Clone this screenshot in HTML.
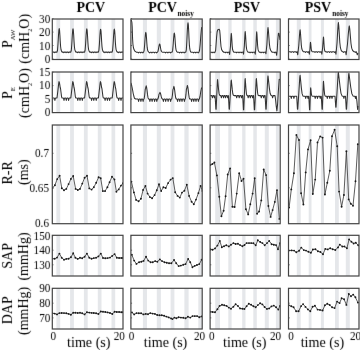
<!DOCTYPE html><html><head><meta charset="utf-8"><style>
html,body{margin:0;padding:0;background:#fff;width:360px;height:350px;overflow:hidden}
svg{display:block}
text{font-family:"Liberation Serif",serif;fill:#000}
</style></head><body>
<svg xmlns="http://www.w3.org/2000/svg" width="360" height="350" viewBox="0 0 360 350">
<rect width="360" height="350" fill="#fff"/>
<defs>
<clipPath id="c00"><rect x="52.3" y="19" width="70.7" height="40.5"/></clipPath>
<clipPath id="c01"><rect x="52.3" y="72" width="70.7" height="40.6"/></clipPath>
<clipPath id="c02"><rect x="52.3" y="125" width="70.7" height="98.7"/></clipPath>
<clipPath id="c03"><rect x="52.3" y="235.3" width="70.7" height="40.7"/></clipPath>
<clipPath id="c04"><rect x="52.3" y="288.3" width="70.7" height="40.7"/></clipPath>
<clipPath id="c10"><rect x="130.9" y="19" width="71.3" height="40.5"/></clipPath>
<clipPath id="c11"><rect x="130.9" y="72" width="71.3" height="40.6"/></clipPath>
<clipPath id="c12"><rect x="130.9" y="125" width="71.3" height="98.7"/></clipPath>
<clipPath id="c13"><rect x="130.9" y="235.3" width="71.3" height="40.7"/></clipPath>
<clipPath id="c14"><rect x="130.9" y="288.3" width="71.3" height="40.7"/></clipPath>
<clipPath id="c20"><rect x="210.1" y="19" width="70.1" height="40.5"/></clipPath>
<clipPath id="c21"><rect x="210.1" y="72" width="70.1" height="40.6"/></clipPath>
<clipPath id="c22"><rect x="210.1" y="125" width="70.1" height="98.7"/></clipPath>
<clipPath id="c23"><rect x="210.1" y="235.3" width="70.1" height="40.7"/></clipPath>
<clipPath id="c24"><rect x="210.1" y="288.3" width="70.1" height="40.7"/></clipPath>
<clipPath id="c30"><rect x="288.5" y="19" width="70.5" height="40.5"/></clipPath>
<clipPath id="c31"><rect x="288.5" y="72" width="70.5" height="40.6"/></clipPath>
<clipPath id="c32"><rect x="288.5" y="125" width="70.5" height="98.7"/></clipPath>
<clipPath id="c33"><rect x="288.5" y="235.3" width="70.5" height="40.7"/></clipPath>
<clipPath id="c34"><rect x="288.5" y="288.3" width="70.5" height="40.7"/></clipPath>
<filter id="soft" x="0" y="0" width="360" height="350" filterUnits="userSpaceOnUse" color-interpolation-filters="sRGB"><feConvolveMatrix order="3" kernelMatrix="0 1 0 1 10 1 0 1 0" divisor="14" edgeMode="none" preserveAlpha="false"/></filter>
</defs>
<rect x="56.4" y="19" width="3.8" height="40.5" fill="#e5e7ea"/>
<rect x="70.1" y="19" width="3.8" height="40.5" fill="#e5e7ea"/>
<rect x="83.9" y="19" width="3.8" height="40.5" fill="#e5e7ea"/>
<rect x="97.8" y="19" width="3.7" height="40.5" fill="#e5e7ea"/>
<rect x="111.5" y="19" width="3.7" height="40.5" fill="#e5e7ea"/>
<rect x="56.4" y="72" width="3.8" height="40.6" fill="#e5e7ea"/>
<rect x="70.1" y="72" width="3.8" height="40.6" fill="#e5e7ea"/>
<rect x="83.9" y="72" width="3.8" height="40.6" fill="#e5e7ea"/>
<rect x="97.8" y="72" width="3.7" height="40.6" fill="#e5e7ea"/>
<rect x="111.5" y="72" width="3.7" height="40.6" fill="#e5e7ea"/>
<rect x="56.4" y="125" width="3.8" height="98.7" fill="#e5e7ea"/>
<rect x="70.1" y="125" width="3.8" height="98.7" fill="#e5e7ea"/>
<rect x="83.9" y="125" width="3.8" height="98.7" fill="#e5e7ea"/>
<rect x="97.8" y="125" width="3.7" height="98.7" fill="#e5e7ea"/>
<rect x="111.5" y="125" width="3.7" height="98.7" fill="#e5e7ea"/>
<rect x="56.4" y="235.3" width="3.8" height="40.7" fill="#e5e7ea"/>
<rect x="70.1" y="235.3" width="3.8" height="40.7" fill="#e5e7ea"/>
<rect x="83.9" y="235.3" width="3.8" height="40.7" fill="#e5e7ea"/>
<rect x="97.8" y="235.3" width="3.7" height="40.7" fill="#e5e7ea"/>
<rect x="111.5" y="235.3" width="3.7" height="40.7" fill="#e5e7ea"/>
<rect x="56.4" y="288.3" width="3.8" height="40.7" fill="#e5e7ea"/>
<rect x="70.1" y="288.3" width="3.8" height="40.7" fill="#e5e7ea"/>
<rect x="83.9" y="288.3" width="3.8" height="40.7" fill="#e5e7ea"/>
<rect x="97.8" y="288.3" width="3.7" height="40.7" fill="#e5e7ea"/>
<rect x="111.5" y="288.3" width="3.7" height="40.7" fill="#e5e7ea"/>
<rect x="142.9" y="19" width="4.1" height="40.5" fill="#e5e7ea"/>
<rect x="156.8" y="19" width="4.1" height="40.5" fill="#e5e7ea"/>
<rect x="170.6" y="19" width="3.8" height="40.5" fill="#e5e7ea"/>
<rect x="184.4" y="19" width="4.2" height="40.5" fill="#e5e7ea"/>
<rect x="198.3" y="19" width="3.5" height="40.5" fill="#e5e7ea"/>
<rect x="142.9" y="72" width="4.1" height="40.6" fill="#e5e7ea"/>
<rect x="156.8" y="72" width="4.1" height="40.6" fill="#e5e7ea"/>
<rect x="170.6" y="72" width="3.8" height="40.6" fill="#e5e7ea"/>
<rect x="184.4" y="72" width="4.2" height="40.6" fill="#e5e7ea"/>
<rect x="198.3" y="72" width="3.5" height="40.6" fill="#e5e7ea"/>
<rect x="142.9" y="125" width="4.1" height="98.7" fill="#e5e7ea"/>
<rect x="156.8" y="125" width="4.1" height="98.7" fill="#e5e7ea"/>
<rect x="170.6" y="125" width="3.8" height="98.7" fill="#e5e7ea"/>
<rect x="184.4" y="125" width="4.2" height="98.7" fill="#e5e7ea"/>
<rect x="198.3" y="125" width="3.5" height="98.7" fill="#e5e7ea"/>
<rect x="142.9" y="235.3" width="4.1" height="40.7" fill="#e5e7ea"/>
<rect x="156.8" y="235.3" width="4.1" height="40.7" fill="#e5e7ea"/>
<rect x="170.6" y="235.3" width="3.8" height="40.7" fill="#e5e7ea"/>
<rect x="184.4" y="235.3" width="4.2" height="40.7" fill="#e5e7ea"/>
<rect x="198.3" y="235.3" width="3.5" height="40.7" fill="#e5e7ea"/>
<rect x="142.9" y="288.3" width="4.1" height="40.7" fill="#e5e7ea"/>
<rect x="156.8" y="288.3" width="4.1" height="40.7" fill="#e5e7ea"/>
<rect x="170.6" y="288.3" width="3.8" height="40.7" fill="#e5e7ea"/>
<rect x="184.4" y="288.3" width="4.2" height="40.7" fill="#e5e7ea"/>
<rect x="198.3" y="288.3" width="3.5" height="40.7" fill="#e5e7ea"/>
<rect x="215.2" y="19" width="4.8" height="40.5" fill="#e5e7ea"/>
<rect x="228.3" y="19" width="3.3" height="40.5" fill="#e5e7ea"/>
<rect x="242.2" y="19" width="3.3" height="40.5" fill="#e5e7ea"/>
<rect x="253.3" y="19" width="3.5" height="40.5" fill="#e5e7ea"/>
<rect x="264.8" y="19" width="4" height="40.5" fill="#e5e7ea"/>
<rect x="275.9" y="19" width="3.1" height="40.5" fill="#e5e7ea"/>
<rect x="215.2" y="72" width="4.8" height="40.6" fill="#e5e7ea"/>
<rect x="228.3" y="72" width="3.3" height="40.6" fill="#e5e7ea"/>
<rect x="242.2" y="72" width="3.3" height="40.6" fill="#e5e7ea"/>
<rect x="253.3" y="72" width="3.5" height="40.6" fill="#e5e7ea"/>
<rect x="264.8" y="72" width="4" height="40.6" fill="#e5e7ea"/>
<rect x="275.9" y="72" width="3.1" height="40.6" fill="#e5e7ea"/>
<rect x="215.2" y="125" width="4.8" height="98.7" fill="#e5e7ea"/>
<rect x="228.3" y="125" width="3.3" height="98.7" fill="#e5e7ea"/>
<rect x="242.2" y="125" width="3.3" height="98.7" fill="#e5e7ea"/>
<rect x="253.3" y="125" width="3.5" height="98.7" fill="#e5e7ea"/>
<rect x="264.8" y="125" width="4" height="98.7" fill="#e5e7ea"/>
<rect x="275.9" y="125" width="3.1" height="98.7" fill="#e5e7ea"/>
<rect x="215.2" y="235.3" width="4.8" height="40.7" fill="#e5e7ea"/>
<rect x="228.3" y="235.3" width="3.3" height="40.7" fill="#e5e7ea"/>
<rect x="242.2" y="235.3" width="3.3" height="40.7" fill="#e5e7ea"/>
<rect x="253.3" y="235.3" width="3.5" height="40.7" fill="#e5e7ea"/>
<rect x="264.8" y="235.3" width="4" height="40.7" fill="#e5e7ea"/>
<rect x="275.9" y="235.3" width="3.1" height="40.7" fill="#e5e7ea"/>
<rect x="215.2" y="288.3" width="4.8" height="40.7" fill="#e5e7ea"/>
<rect x="228.3" y="288.3" width="3.3" height="40.7" fill="#e5e7ea"/>
<rect x="242.2" y="288.3" width="3.3" height="40.7" fill="#e5e7ea"/>
<rect x="253.3" y="288.3" width="3.5" height="40.7" fill="#e5e7ea"/>
<rect x="264.8" y="288.3" width="4" height="40.7" fill="#e5e7ea"/>
<rect x="275.9" y="288.3" width="3.1" height="40.7" fill="#e5e7ea"/>
<rect x="296.8" y="19" width="3.9" height="40.5" fill="#e5e7ea"/>
<rect x="308.7" y="19" width="2.8" height="40.5" fill="#e5e7ea"/>
<rect x="320.9" y="19" width="3" height="40.5" fill="#e5e7ea"/>
<rect x="335" y="19" width="3.8" height="40.5" fill="#e5e7ea"/>
<rect x="345.8" y="19" width="4" height="40.5" fill="#e5e7ea"/>
<rect x="296.8" y="72" width="3.9" height="40.6" fill="#e5e7ea"/>
<rect x="308.7" y="72" width="2.8" height="40.6" fill="#e5e7ea"/>
<rect x="320.9" y="72" width="3" height="40.6" fill="#e5e7ea"/>
<rect x="335" y="72" width="3.8" height="40.6" fill="#e5e7ea"/>
<rect x="345.8" y="72" width="4" height="40.6" fill="#e5e7ea"/>
<rect x="296.8" y="125" width="3.9" height="98.7" fill="#e5e7ea"/>
<rect x="308.7" y="125" width="2.8" height="98.7" fill="#e5e7ea"/>
<rect x="320.9" y="125" width="3" height="98.7" fill="#e5e7ea"/>
<rect x="335" y="125" width="3.8" height="98.7" fill="#e5e7ea"/>
<rect x="345.8" y="125" width="4" height="98.7" fill="#e5e7ea"/>
<rect x="296.8" y="235.3" width="3.9" height="40.7" fill="#e5e7ea"/>
<rect x="308.7" y="235.3" width="2.8" height="40.7" fill="#e5e7ea"/>
<rect x="320.9" y="235.3" width="3" height="40.7" fill="#e5e7ea"/>
<rect x="335" y="235.3" width="3.8" height="40.7" fill="#e5e7ea"/>
<rect x="345.8" y="235.3" width="4" height="40.7" fill="#e5e7ea"/>
<rect x="296.8" y="288.3" width="3.9" height="40.7" fill="#e5e7ea"/>
<rect x="308.7" y="288.3" width="2.8" height="40.7" fill="#e5e7ea"/>
<rect x="320.9" y="288.3" width="3" height="40.7" fill="#e5e7ea"/>
<rect x="335" y="288.3" width="3.8" height="40.7" fill="#e5e7ea"/>
<rect x="345.8" y="288.3" width="4" height="40.7" fill="#e5e7ea"/>
<polyline points="52.4,52.1 54.15,52.1 54.7,52.7 55.25,52.1 57,52.1 57,52.1 57.5,50.22 58,43.88 58.5,35.18 58.9,30.01 59.2,28.6 59.55,30.25 59.9,35.18 60.25,41.52 60.6,46.46 61,49.52 61.5,51.16 62.2,52.1 62.2,52.1 63.25,52.1 63.8,52.7 64.35,52.1 65.55,52.1 66.1,52.7 66.65,52.1 67.85,52.1 68.4,52.7 68.95,52.1 70.8,52.1 70.8,52.1 71.3,50.24 71.8,43.95 72.3,35.32 72.7,30.2 73,28.8 73.35,30.43 73.7,35.32 74.05,41.62 74.4,46.51 74.8,49.54 75.3,51.17 76,52.1 76,52.1 77.05,52.1 77.6,52.7 78.15,52.1 79.25,52.1 79.8,52.7 80.35,52.1 81.55,52.1 82.1,52.7 82.65,52.1 84.6,52.1 84.6,52.1 85.1,50.24 85.6,43.95 86.1,35.32 86.5,30.2 86.8,28.8 87.15,30.43 87.5,35.32 87.85,41.62 88.2,46.51 88.6,49.54 89.1,51.17 89.8,52.1 89.8,52.1 90.85,52.1 91.4,52.7 91.95,52.1 93.05,52.1 93.6,52.7 94.15,52.1 95.45,52.1 96,52.7 96.55,52.1 98.4,52.1 98.4,52.1 98.9,50.27 99.4,44.09 99.9,35.61 100.3,30.57 100.6,29.2 100.95,30.8 101.3,35.61 101.65,41.8 102,46.6 102.4,49.58 102.9,51.18 103.6,52.1 103.6,52.1 104.35,52.1 104.9,52.7 105.45,52.1 106.65,52.1 107.2,52.7 107.75,52.1 108.85,52.1 109.4,52.7 109.95,52.1 112.1,52.1 112.1,52.1 112.6,50.25 113.1,44.02 113.6,35.47 114,30.39 114.3,29 114.65,30.62 115,35.47 115.35,41.7 115.7,46.56 116.1,49.56 116.6,51.18 117.3,52.1 117.3,52.1 117.95,52.1 118.5,52.7 119.05,52.1 120.25,52.1 120.8,52.7 121.35,52.1 123,52.1" fill="none" stroke="#333" stroke-width="1.05" stroke-linejoin="round" clip-path="url(#c00)"/>
<polyline points="130.9,19.8 131.5,20.5 131.9,22.5 132.2,27 132.4,33 132.6,39 132.9,44 133.4,47.5 134.1,49.8 135,51.3 136.4,52.1 136.4,52.2 137.85,52.2 138.4,52.9 138.95,52.2 140.15,52.2 140.7,52.9 141.25,52.2 142.35,52.2 142.9,52.9 143.45,52.2 143.6,52.2 143.6,52.2 144.1,50.62 144.6,45.27 145.1,37.94 145.5,33.59 145.8,32.4 146.15,33.79 146.5,37.94 146.85,43.29 147.2,47.45 147.6,50.02 148.1,51.41 148.8,52.2 148.8,52.2 149.15,52.2 149.7,52.9 150.25,52.2 151.35,52.2 151.9,52.9 152.45,52.2 153.85,52.2 154.4,52.9 154.95,52.2 156.05,52.2 156.6,52.9 157.15,52.2 157.4,52.2 157.4,52.2 157.9,51.54 158.4,49.33 158.9,46.3 159.3,44.49 159.6,44 159.95,44.57 160.3,46.3 160.65,48.51 161,50.23 161.4,51.3 161.9,51.87 162.6,52.2 162.6,52.2 164.95,52.2 165.5,52.9 166.05,52.2 167.35,52.2 167.9,52.9 168.45,52.2 169.85,52.2 170.4,52.9 170.95,52.2 172.1,52.2 172.1,52.2 172.6,50.67 173.1,45.52 173.6,38.45 174,34.25 174.3,33.1 174.65,34.44 175,38.45 175.35,43.61 175.7,47.62 176.1,50.1 176.6,51.44 177.3,52.2 177.3,52.2 179.05,52.2 179.6,52.9 180.15,52.2 181.25,52.2 181.8,52.9 182.35,52.2 183.65,52.2 184.2,52.9 184.75,52.2 185.8,52.2 185.8,52.2 186.3,49.85 186.8,41.91 187.3,31.03 187.7,24.56 188,22.8 188.35,24.86 188.7,31.03 189.05,38.97 189.4,45.14 189.8,48.97 190.3,51.02 191,52.2 191,52.2 193.05,52.2 193.6,52.9 194.15,52.2 195.25,52.2 195.8,52.9 196.35,52.2 197.65,52.2 198.2,52.9 198.75,52.2 199,52.2 199,52.2 199.6,50 200.2,44 200.8,36 201.4,29.5 201.8,27" fill="none" stroke="#333" stroke-width="1.05" stroke-linejoin="round" clip-path="url(#c10)"/>
<polyline points="210.2,52.2 211.65,52.2 212.2,52.8 212.75,52.2 213.65,52.2 214.2,52.8 214.75,52.2 215,52.2 215,52.1 215.6,50.5 216.1,44 216.6,37 217.1,32 217.7,30 218.4,29.4 219.2,29.2 219.7,30.5 220.1,34.5 220.5,40.5 221,46.5 221.7,49.8 222.6,51.3 223.6,52 223.6,52.2 224.85,52.2 225.4,52.8 225.95,52.2 226.95,52.2 227.5,52.8 228.05,52.2 229.1,52.2 229.1,52.1 229.65,54.5 230.46,46.49 230.84,39.01 231.14,34.52 231.3,33.4 231.56,35.64 231.89,40.88 232.21,46.12 232.6,49.48 233.12,51.16 233.9,52.1 233.9,52.2 235.95,52.2 236.5,52.8 237.05,52.2 238.45,52.2 239,52.8 239.55,52.2 240.75,52.2 241.3,52.8 241.85,52.2 243,52.2 243,52 243.55,54.2 244.35,45.85 244.74,37.65 245.04,32.73 245.2,31.5 245.48,33.96 245.83,39.7 246.18,45.44 246.6,49.13 247.16,50.97 248,52 248,52.2 249.55,52.2 250.1,52.8 250.65,52.2 251.85,52.2 252.4,52.8 252.95,52.2 254.7,52.2 254.7,52 255.25,54.2 255.98,45.94 256.31,37.86 256.57,33.01 256.7,31.8 256.96,34.22 257.28,39.88 257.61,45.54 258,49.17 258.52,50.99 259.3,52 259.3,52.2 260.55,52.2 261.1,52.8 261.65,52.2 262.95,52.2 263.5,52.8 264.05,52.2 265.4,52.2 265.4,51.9 265.95,53.8 266.89,44.61 267.4,34.89 267.8,29.06 268,27.6 268.4,30.52 268.9,37.32 269.4,44.12 270,48.5 270.8,50.69 272,51.9 272,52.2 274.05,52.2 274.6,52.8 275.15,52.2 275.9,52.2 275.9,52 276.7,55.3 277.3,49 277.8,40 278.4,33.2 279,33.5 279.6,37 280,40" fill="none" stroke="#333" stroke-width="1.05" stroke-linejoin="round" clip-path="url(#c20)"/>
<polyline points="288.6,51.8 290.55,51.8 291.1,52.5 291.65,51.8 293.15,51.8 293.7,52.5 294.25,51.8 295.65,51.8 296.2,52.5 296.75,51.8 297.2,51.8 297.2,51.8 297.75,54.8 298.8,45.2 299.4,36.4 299.86,31.12 300.1,29.8 300.44,32.44 300.87,38.6 301.29,44.76 301.8,48.72 302.48,50.7 303.5,51.8 303.5,51.8 304.95,51.8 305.5,52.5 306.05,51.8 307.25,51.8 307.8,52.5 308.35,51.8 308.8,51.8 308.8,51.8 309.35,54.2 309.98,48.95 310.22,45.15 310.4,42.87 310.5,42.3 310.7,43.44 310.95,46.1 311.2,48.76 311.5,50.47 311.9,51.32 312.5,51.8 312.5,51.8 314.45,51.8 315,52.5 315.55,51.8 316.75,51.8 317.3,52.5 317.85,51.8 319.45,51.8 320,52.5 320.55,51.8 321.3,51.8 321.3,51.8 321.85,54.2 322.65,47.36 323.05,41.44 323.34,37.89 323.5,37 323.7,38.78 323.95,42.92 324.2,47.06 324.5,49.73 324.9,51.06 325.5,51.8 325.5,51.8 326.55,51.8 327.1,52.5 327.65,51.8 329.05,51.8 329.6,52.5 330.15,51.8 331.25,51.8 331.8,52.5 332.35,51.8 333.85,51.8 334.4,52.5 334.95,51.8 335.4,51.8 335.4,51.8 335.95,54.2 337.03,43.04 337.66,31.36 338.15,24.35 338.4,22.6 338.8,26.1 339.3,34.28 339.8,42.46 340.4,47.71 341.2,50.34 342.4,51.8 342.4,51.8 343.15,51.8 343.7,52.5 344.25,51.8 345.6,51.8 345.6,51.8 346.15,54.8 347.48,44.03 348.32,33.67 348.96,27.45 349.3,25.9 349.78,29.01 350.38,36.26 350.98,43.51 351.7,48.17 352.66,50.5 354.1,51.8 354.1,51.8 354.75,51.8 355.3,52.5 355.85,51.8 356.4,51.8 356.4,51.9 357.3,54.8 358,53" fill="none" stroke="#333" stroke-width="1.05" stroke-linejoin="round" clip-path="url(#c30)"/>
<polyline points="52.4,98 54.3,98 54.9,100.5 55.5,98 57,98 57,98 57.6,93.08 58.2,87.83 58.7,83.24 59,81.6 59.35,82.42 59.8,84.88 60.2,87.5 60.6,88.98 61,92.26 61.5,96.36 61.9,98 61.9,98 63.4,98 64,100.5 64.6,98 65.7,98 66.3,100.5 66.9,98 68,98 68.6,100.5 69.2,98 70.8,98 70.8,98 71.4,93.08 72,87.83 72.5,83.24 72.8,81.6 73.15,82.42 73.6,84.88 74,87.5 74.4,88.98 74.8,92.26 75.3,96.36 75.7,98 75.7,98 77.2,98 77.8,100.5 78.4,98 79.4,98 80,100.5 80.6,98 81.7,98 82.3,100.5 82.9,98 84.6,98 84.6,98 85.2,93.08 85.8,87.83 86.3,83.24 86.6,81.6 86.95,82.42 87.4,84.88 87.8,87.5 88.2,88.98 88.6,92.26 89.1,96.36 89.5,98 89.5,98 91,98 91.6,100.5 92.2,98 93.2,98 93.8,100.5 94.4,98 95.6,98 96.2,100.5 96.8,98 98.4,98 98.4,98 99,93.08 99.6,87.83 100.1,83.24 100.4,81.6 100.75,82.42 101.2,84.88 101.6,87.5 102,88.98 102.4,92.26 102.9,96.36 103.3,98 103.3,98 104.5,98 105.1,100.5 105.7,98 106.8,98 107.4,100.5 108,98 109,98 109.6,100.5 110.2,98 112.2,98 112.2,98 112.8,93.08 113.4,87.83 113.9,83.24 114.2,81.6 114.55,82.42 115,84.88 115.4,87.5 115.8,88.98 116.2,92.26 116.7,96.36 117.1,98 117.1,98 118.1,98 118.7,100.5 119.3,98 120.4,98 121,100.5 121.6,98 123,98" fill="none" stroke="#333" stroke-width="1.05" stroke-linejoin="round" clip-path="url(#c01)"/>
<polyline points="130.9,82.8 131.4,84.5 132,87 132.6,90 133.2,93.5 133.8,96 134.5,98.3 135.6,99 135.6,99 138,99 138.6,101.5 139.2,99 140.3,99 140.9,101.5 141.5,99 142.5,99 143.1,101.5 143.7,99 144.1,99 144.1,99 144.7,95.04 145.2,89.5 145.6,88.18 146.2,85.8 146.6,87.38 147,90.02 147.5,94.38 148,97.68 148.5,99 148.5,99 149.3,99 149.9,101.5 150.5,99 151.5,99 152.1,101.5 152.7,99 154,99 154.6,101.5 155.2,99 156.2,99 156.8,101.5 157.4,99 157.9,99 157.9,99 158.5,97.02 159,94.25 159.4,93.59 160,92.4 160.4,93.19 160.8,94.51 161.3,96.69 161.8,98.34 162.3,99 162.3,99 162.8,99 163.4,101.5 164,99 165.1,99 165.7,101.5 166.3,99 167.5,99 168.1,101.5 168.7,99 170,99 170.6,101.5 171.2,99 171.8,99 171.8,99 172.4,95.22 172.9,89.93 173.3,88.67 173.9,86.4 174.3,87.91 174.7,90.43 175.2,94.59 175.7,97.74 176.2,99 176.2,99 177,99 177.6,101.5 178.2,99 179.2,99 179.8,101.5 180.4,99 181.4,99 182,101.5 182.6,99 183.8,99 184.4,101.5 185,99 185.3,99 185.3,99 185.9,94.95 186.4,89.28 186.8,87.93 187.4,85.5 187.8,87.12 188.2,89.82 188.7,94.28 189.2,97.65 189.7,99 189.7,99 191,99 191.6,101.5 192.2,99 193.2,99 193.8,101.5 194.4,99 195.4,99 196,101.5 196.6,99 197.8,99 198.4,101.5 199,99 199.3,99 199.3,99 200,96.5 200.7,92 201.3,89 201.8,87.5" fill="none" stroke="#333" stroke-width="1.05" stroke-linejoin="round" clip-path="url(#c11)"/>
<polyline points="210.2,95.6 211.8,95.6 212.4,97.8 213,95.6 213.8,95.6 214.4,97.8 215,95.6 215.1,95.6 215.1,95.6 215.5,102.55 215.85,109.2 216.15,109.2 216.8,94.5 217.41,80.79 217.6,79.5 218.05,84.01 218.57,89.48 219.1,93.67 219.7,95.3 220.3,95.6 220.3,95.6 220.8,95.6 221.4,97.8 222,95.6 223,95.6 223.6,97.8 224.2,95.6 225,95.6 225.6,97.8 226.2,95.6 227.1,95.6 227.7,97.8 228.3,95.6 228.4,95.6 228.4,95.6 228.8,102.55 229.15,109.2 229.45,109.2 230.3,94.75 231.06,81.25 231.3,80 231.75,84.37 232.28,89.67 232.8,93.73 233.4,95.3 234,95.6 234,95.6 236.1,95.6 236.7,97.8 237.3,95.6 238.6,95.6 239.2,97.8 239.8,95.6 240.9,95.6 241.5,97.8 242.1,95.6 242.7,95.6 242.7,95.6 243.1,102.85 243.45,109.8 243.75,109.8 244.4,94.35 245.01,79.96 245.2,78.6 245.56,83.36 245.98,89.14 246.4,93.56 246.88,95.3 247.36,95.6 247.36,95.6 247.6,95.6 248.2,97.8 248.8,95.6 249.7,95.6 250.3,97.8 250.9,95.6 252,95.6 252.6,97.8 253.2,95.6 253.6,95.6 253.6,95.6 254,102.85 254.35,109.8 254.65,109.8 255.45,94.35 256.17,79.96 256.4,78.6 256.79,83.36 257.25,89.14 257.7,93.56 258.22,95.3 258.74,95.6 258.74,95.6 260.7,95.6 261.3,97.8 261.9,95.6 263.1,95.6 263.7,97.8 264.3,95.6 265.1,95.6 265.1,95.6 265.5,102.55 265.85,109.2 266.15,109.2 267,92.7 267.76,77.48 268,75.9 268.63,81.42 269.37,88.11 270.1,93.24 270.94,95.3 271.78,95.6 271.78,95.6 272,95.6 272.6,97.8 273.2,95.6 275,95.6 275,95.6 275.6,100 276.2,106 276.9,110.8 277.6,104 278.3,92 279.2,79.2 280,80" fill="none" stroke="#333" stroke-width="1.05" stroke-linejoin="round" clip-path="url(#c21)"/>
<polyline points="288.6,96.2 290.7,96.2 291.3,98.4 291.9,96.2 293.3,96.2 293.9,98.4 294.5,96.2 296.7,96.2 296.7,96.2 297.1,102.85 297.45,109.2 297.75,109.2 298.85,92.4 299.8,76.97 300.1,75.3 300.7,81.15 301.4,88.26 302.1,93.69 302.9,95.9 303.7,96.2 303.7,96.2 305.1,96.2 305.7,98.4 306.3,96.2 307.4,96.2 308,98.4 308.6,96.2 308.8,96.2 308.8,96.2 309.2,103.15 309.55,109.8 309.85,109.8 310.2,98.95 310.58,88.47 310.7,87.8 310.97,90.15 311.28,93.01 311.6,95.19 311.96,95.9 312.32,96.2 312.32,96.2 314.6,96.2 315.2,98.4 315.8,96.2 316.9,96.2 317.5,98.4 318.1,96.2 319.6,96.2 320.2,98.4 320.8,96.2 321.3,96.2 321.3,96.2 321.7,102.85 322.05,109.2 322.35,109.2 322.85,95.35 323.34,82.4 323.5,81.2 323.83,85.4 324.21,90.5 324.6,94.4 325.04,95.9 325.48,96.2 325.48,96.2 326.7,96.2 327.3,98.4 327.9,96.2 329.2,96.2 329.8,98.4 330.4,96.2 331.4,96.2 332,98.4 332.6,96.2 335,96.2 335,96.2 335.4,101.85 335.75,107.2 336.05,107.2 337.15,89.95 338.1,74.3 338.4,72.4 339.18,79.06 340.09,87.16 341,93.34 342.04,95.9 343.08,96.2 343.08,96.2 343.3,96.2 343.9,98.4 344.5,96.2 345.5,96.2 345.5,96.2 345.9,102.85 346.25,109.2 346.55,109.2 347.65,91.4 348.6,75.13 348.9,73.3 349.77,79.71 350.78,87.5 351.8,93.45 352.96,95.9 354.12,96.2 354.12,96.2 354.9,96.2 355.5,98.4 356.1,96.2 356.2,96.2 356.2,96.2 356.9,101 357.6,109.5 358,106" fill="none" stroke="#333" stroke-width="1.05" stroke-linejoin="round" clip-path="url(#c31)"/>
<polyline points="52.4,188.2 54.9,185.2 57.2,179.1 59.6,175.8 61.8,188.2 64,190.2 66.3,188.9 68.6,184.1 70.9,178.9 73.2,176 75.6,188.9 77.8,190 80,188.9 82.3,183.6 84.6,177.8 87,175.8 89.3,188.4 91.6,189.6 93.8,187.2 96.2,182.8 98.6,177.2 100.7,178.3 102.8,191.1 105.1,191.1 107.4,187.2 109.6,182.2 112,176.7 114.4,179.4 116.4,191.7 118.7,189.4 121,185.6 123,183.3" fill="none" stroke="#333" stroke-width="0.8" stroke-linejoin="round" clip-path="url(#c02)"/>
<g fill="#1a1a1a" clip-path="url(#c02)">
<circle cx="52.4" cy="188.2" r="0.95"/>
<circle cx="54.9" cy="185.2" r="0.95"/>
<circle cx="57.2" cy="179.1" r="0.95"/>
<circle cx="59.6" cy="175.8" r="0.95"/>
<circle cx="61.8" cy="188.2" r="0.95"/>
<circle cx="64" cy="190.2" r="0.95"/>
<circle cx="66.3" cy="188.9" r="0.95"/>
<circle cx="68.6" cy="184.1" r="0.95"/>
<circle cx="70.9" cy="178.9" r="0.95"/>
<circle cx="73.2" cy="176" r="0.95"/>
<circle cx="75.6" cy="188.9" r="0.95"/>
<circle cx="77.8" cy="190" r="0.95"/>
<circle cx="80" cy="188.9" r="0.95"/>
<circle cx="82.3" cy="183.6" r="0.95"/>
<circle cx="84.6" cy="177.8" r="0.95"/>
<circle cx="87" cy="175.8" r="0.95"/>
<circle cx="89.3" cy="188.4" r="0.95"/>
<circle cx="91.6" cy="189.6" r="0.95"/>
<circle cx="93.8" cy="187.2" r="0.95"/>
<circle cx="96.2" cy="182.8" r="0.95"/>
<circle cx="98.6" cy="177.2" r="0.95"/>
<circle cx="100.7" cy="178.3" r="0.95"/>
<circle cx="102.8" cy="191.1" r="0.95"/>
<circle cx="105.1" cy="191.1" r="0.95"/>
<circle cx="107.4" cy="187.2" r="0.95"/>
<circle cx="109.6" cy="182.2" r="0.95"/>
<circle cx="112" cy="176.7" r="0.95"/>
<circle cx="114.4" cy="179.4" r="0.95"/>
<circle cx="116.4" cy="191.7" r="0.95"/>
<circle cx="118.7" cy="189.4" r="0.95"/>
<circle cx="121" cy="185.6" r="0.95"/>
<circle cx="123" cy="183.3" r="0.95"/>
</g>
<polyline points="131.4,181.6 133.9,192.4 136.1,199.9 138.6,201.3 140.9,198.8 143.1,189.9 145.4,186 147.6,193.6 149.9,197.1 152.1,198.2 154.6,195.1 156.8,190.2 159,184.3 161.2,191 163.4,187.3 165.7,188 168.1,183.1 170.6,179.6 172.8,178.1 175.2,192.3 177.6,195.9 179.8,197.6 182,192.6 184.4,190.7 186.8,184.8 189.1,195.9 191.6,201.8 193.8,204.2 196,199.6 198.4,193.1 200.6,185.9 202.5,191" fill="none" stroke="#333" stroke-width="0.8" stroke-linejoin="round" clip-path="url(#c12)"/>
<g fill="#1a1a1a" clip-path="url(#c12)">
<circle cx="131.4" cy="181.6" r="0.95"/>
<circle cx="133.9" cy="192.4" r="0.95"/>
<circle cx="136.1" cy="199.9" r="0.95"/>
<circle cx="138.6" cy="201.3" r="0.95"/>
<circle cx="140.9" cy="198.8" r="0.95"/>
<circle cx="143.1" cy="189.9" r="0.95"/>
<circle cx="145.4" cy="186" r="0.95"/>
<circle cx="147.6" cy="193.6" r="0.95"/>
<circle cx="149.9" cy="197.1" r="0.95"/>
<circle cx="152.1" cy="198.2" r="0.95"/>
<circle cx="154.6" cy="195.1" r="0.95"/>
<circle cx="156.8" cy="190.2" r="0.95"/>
<circle cx="159" cy="184.3" r="0.95"/>
<circle cx="161.2" cy="191" r="0.95"/>
<circle cx="163.4" cy="187.3" r="0.95"/>
<circle cx="165.7" cy="188" r="0.95"/>
<circle cx="168.1" cy="183.1" r="0.95"/>
<circle cx="170.6" cy="179.6" r="0.95"/>
<circle cx="172.8" cy="178.1" r="0.95"/>
<circle cx="175.2" cy="192.3" r="0.95"/>
<circle cx="177.6" cy="195.9" r="0.95"/>
<circle cx="179.8" cy="197.6" r="0.95"/>
<circle cx="182" cy="192.6" r="0.95"/>
<circle cx="184.4" cy="190.7" r="0.95"/>
<circle cx="186.8" cy="184.8" r="0.95"/>
<circle cx="189.1" cy="195.9" r="0.95"/>
<circle cx="191.6" cy="201.8" r="0.95"/>
<circle cx="193.8" cy="204.2" r="0.95"/>
<circle cx="196" cy="199.6" r="0.95"/>
<circle cx="198.4" cy="193.1" r="0.95"/>
<circle cx="200.6" cy="185.9" r="0.95"/>
<circle cx="202.5" cy="191" r="0.95"/>
</g>
<polyline points="210.4,165 212.4,164 214.4,162.5 216.9,175.4 219.3,196.8 221.4,216.3 223.6,210.7 225.6,196.2 227.7,174.5 230.1,168.4 232.4,206.8 234.6,207 236.7,193.6 239.2,173.2 241.5,181 243.5,178.8 245.9,209.2 248.2,214.4 250.3,204.2 252.6,193.6 254.7,178.3 257.1,213.8 259.1,211.5 261.3,200.4 263.7,169.5 266.1,175.1 268.4,206 270.6,216.9 272.6,210.1 274.8,201.9 277,190.1 279.4,218.9" fill="none" stroke="#333" stroke-width="0.8" stroke-linejoin="round" clip-path="url(#c22)"/>
<g fill="#1a1a1a" clip-path="url(#c22)">
<circle cx="210.4" cy="165" r="0.95"/>
<circle cx="212.4" cy="164" r="0.95"/>
<circle cx="214.4" cy="162.5" r="0.95"/>
<circle cx="216.9" cy="175.4" r="0.95"/>
<circle cx="219.3" cy="196.8" r="0.95"/>
<circle cx="221.4" cy="216.3" r="0.95"/>
<circle cx="223.6" cy="210.7" r="0.95"/>
<circle cx="225.6" cy="196.2" r="0.95"/>
<circle cx="227.7" cy="174.5" r="0.95"/>
<circle cx="230.1" cy="168.4" r="0.95"/>
<circle cx="232.4" cy="206.8" r="0.95"/>
<circle cx="234.6" cy="207" r="0.95"/>
<circle cx="236.7" cy="193.6" r="0.95"/>
<circle cx="239.2" cy="173.2" r="0.95"/>
<circle cx="241.5" cy="181" r="0.95"/>
<circle cx="243.5" cy="178.8" r="0.95"/>
<circle cx="245.9" cy="209.2" r="0.95"/>
<circle cx="248.2" cy="214.4" r="0.95"/>
<circle cx="250.3" cy="204.2" r="0.95"/>
<circle cx="252.6" cy="193.6" r="0.95"/>
<circle cx="254.7" cy="178.3" r="0.95"/>
<circle cx="257.1" cy="213.8" r="0.95"/>
<circle cx="259.1" cy="211.5" r="0.95"/>
<circle cx="261.3" cy="200.4" r="0.95"/>
<circle cx="263.7" cy="169.5" r="0.95"/>
<circle cx="266.1" cy="175.1" r="0.95"/>
<circle cx="268.4" cy="206" r="0.95"/>
<circle cx="270.6" cy="216.9" r="0.95"/>
<circle cx="272.6" cy="210.1" r="0.95"/>
<circle cx="274.8" cy="201.9" r="0.95"/>
<circle cx="277" cy="190.1" r="0.95"/>
<circle cx="279.4" cy="218.9" r="0.95"/>
</g>
<polyline points="289.1,207.6 291.3,189.4 293.9,173.3 296.4,135 299,140 301.1,193.2 303.4,204.5 305.7,172.4 308,149.4 310.6,140.2 312.8,194 315.2,179.6 317.5,142.4 320.2,136.4 322.6,137.6 324.9,194.5 327.3,182.8 329.8,170.8 332,136.2 334.6,129.8 337.2,146.2 339.1,191.6 341.6,206.7 343.9,195 346.4,151.2 348.7,199.4 350.8,203.8 353,205.7 355.5,181.2 357.8,144.2" fill="none" stroke="#333" stroke-width="0.8" stroke-linejoin="round" clip-path="url(#c32)"/>
<g fill="#1a1a1a" clip-path="url(#c32)">
<circle cx="289.1" cy="207.6" r="0.95"/>
<circle cx="291.3" cy="189.4" r="0.95"/>
<circle cx="293.9" cy="173.3" r="0.95"/>
<circle cx="296.4" cy="135" r="0.95"/>
<circle cx="299" cy="140" r="0.95"/>
<circle cx="301.1" cy="193.2" r="0.95"/>
<circle cx="303.4" cy="204.5" r="0.95"/>
<circle cx="305.7" cy="172.4" r="0.95"/>
<circle cx="308" cy="149.4" r="0.95"/>
<circle cx="310.6" cy="140.2" r="0.95"/>
<circle cx="312.8" cy="194" r="0.95"/>
<circle cx="315.2" cy="179.6" r="0.95"/>
<circle cx="317.5" cy="142.4" r="0.95"/>
<circle cx="320.2" cy="136.4" r="0.95"/>
<circle cx="322.6" cy="137.6" r="0.95"/>
<circle cx="324.9" cy="194.5" r="0.95"/>
<circle cx="327.3" cy="182.8" r="0.95"/>
<circle cx="329.8" cy="170.8" r="0.95"/>
<circle cx="332" cy="136.2" r="0.95"/>
<circle cx="334.6" cy="129.8" r="0.95"/>
<circle cx="337.2" cy="146.2" r="0.95"/>
<circle cx="339.1" cy="191.6" r="0.95"/>
<circle cx="341.6" cy="206.7" r="0.95"/>
<circle cx="343.9" cy="195" r="0.95"/>
<circle cx="346.4" cy="151.2" r="0.95"/>
<circle cx="348.7" cy="199.4" r="0.95"/>
<circle cx="350.8" cy="203.8" r="0.95"/>
<circle cx="353" cy="205.7" r="0.95"/>
<circle cx="355.5" cy="181.2" r="0.95"/>
<circle cx="357.8" cy="144.2" r="0.95"/>
</g>
<polyline points="52.4,258.7 54.7,258.7 57,257.6 59.4,253.6 61.7,257.8 64,259.8 66.3,258.9 68.6,258.7 70.9,257.2 73.2,253.3 75.4,257.8 77.7,258.9 80,257.8 82.2,258.3 84.6,256.7 86.9,253.6 89.3,257.8 91.6,258.7 93.8,258.1 96.1,257.8 98.4,256.4 100.8,253.6 103,258 105.3,258.3 107.6,258.1 110,257.6 112.2,255.9 114.6,254.1 116.8,257.8 119.1,258 121.3,258 123,258" fill="none" stroke="#333" stroke-width="0.8" stroke-linejoin="round" clip-path="url(#c03)"/>
<g fill="#1a1a1a" clip-path="url(#c03)">
<circle cx="52.4" cy="258.7" r="0.95"/>
<circle cx="54.7" cy="258.7" r="0.95"/>
<circle cx="57" cy="257.6" r="0.95"/>
<circle cx="59.4" cy="253.6" r="0.95"/>
<circle cx="61.7" cy="257.8" r="0.95"/>
<circle cx="64" cy="259.8" r="0.95"/>
<circle cx="66.3" cy="258.9" r="0.95"/>
<circle cx="68.6" cy="258.7" r="0.95"/>
<circle cx="70.9" cy="257.2" r="0.95"/>
<circle cx="73.2" cy="253.3" r="0.95"/>
<circle cx="75.4" cy="257.8" r="0.95"/>
<circle cx="77.7" cy="258.9" r="0.95"/>
<circle cx="80" cy="257.8" r="0.95"/>
<circle cx="82.2" cy="258.3" r="0.95"/>
<circle cx="84.6" cy="256.7" r="0.95"/>
<circle cx="86.9" cy="253.6" r="0.95"/>
<circle cx="89.3" cy="257.8" r="0.95"/>
<circle cx="91.6" cy="258.7" r="0.95"/>
<circle cx="93.8" cy="258.1" r="0.95"/>
<circle cx="96.1" cy="257.8" r="0.95"/>
<circle cx="98.4" cy="256.4" r="0.95"/>
<circle cx="100.8" cy="253.6" r="0.95"/>
<circle cx="103" cy="258" r="0.95"/>
<circle cx="105.3" cy="258.3" r="0.95"/>
<circle cx="107.6" cy="258.1" r="0.95"/>
<circle cx="110" cy="257.6" r="0.95"/>
<circle cx="112.2" cy="255.9" r="0.95"/>
<circle cx="114.6" cy="254.1" r="0.95"/>
<circle cx="116.8" cy="257.8" r="0.95"/>
<circle cx="119.1" cy="258" r="0.95"/>
<circle cx="121.3" cy="258" r="0.95"/>
<circle cx="123" cy="258" r="0.95"/>
</g>
<polyline points="131.85,254.8 134.15,260.6 136.45,263.9 139.05,262.2 141.35,261.7 143.55,260.9 146.05,256.7 148.25,260.6 150.55,262.2 152.75,262.2 155.15,261.1 157.35,261.7 159.85,259.4 162.05,261.1 164.45,262.2 166.75,262.8 169.05,263.2 171.35,263.3 174.05,260 176.25,263.3 178.65,266.1 180.85,265.6 183.25,264.8 185.55,264.1 188.15,258.9 190.25,262.2 192.45,267.2 194.65,265.9 196.95,265 199.25,264.1 201.65,259.8" fill="none" stroke="#333" stroke-width="0.8" stroke-linejoin="round" clip-path="url(#c13)"/>
<g fill="#1a1a1a" clip-path="url(#c13)">
<circle cx="131.85" cy="254.8" r="0.95"/>
<circle cx="134.15" cy="260.6" r="0.95"/>
<circle cx="136.45" cy="263.9" r="0.95"/>
<circle cx="139.05" cy="262.2" r="0.95"/>
<circle cx="141.35" cy="261.7" r="0.95"/>
<circle cx="143.55" cy="260.9" r="0.95"/>
<circle cx="146.05" cy="256.7" r="0.95"/>
<circle cx="148.25" cy="260.6" r="0.95"/>
<circle cx="150.55" cy="262.2" r="0.95"/>
<circle cx="152.75" cy="262.2" r="0.95"/>
<circle cx="155.15" cy="261.1" r="0.95"/>
<circle cx="157.35" cy="261.7" r="0.95"/>
<circle cx="159.85" cy="259.4" r="0.95"/>
<circle cx="162.05" cy="261.1" r="0.95"/>
<circle cx="164.45" cy="262.2" r="0.95"/>
<circle cx="166.75" cy="262.8" r="0.95"/>
<circle cx="169.05" cy="263.2" r="0.95"/>
<circle cx="171.35" cy="263.3" r="0.95"/>
<circle cx="174.05" cy="260" r="0.95"/>
<circle cx="176.25" cy="263.3" r="0.95"/>
<circle cx="178.65" cy="266.1" r="0.95"/>
<circle cx="180.85" cy="265.6" r="0.95"/>
<circle cx="183.25" cy="264.8" r="0.95"/>
<circle cx="185.55" cy="264.1" r="0.95"/>
<circle cx="188.15" cy="258.9" r="0.95"/>
<circle cx="190.25" cy="262.2" r="0.95"/>
<circle cx="192.45" cy="267.2" r="0.95"/>
<circle cx="194.65" cy="265.9" r="0.95"/>
<circle cx="196.95" cy="265" r="0.95"/>
<circle cx="199.25" cy="264.1" r="0.95"/>
<circle cx="201.65" cy="259.8" r="0.95"/>
</g>
<polyline points="210.4,249.2 212.6,249.8 215,248.4 217.4,245.6 219.8,240.9 221.8,247.3 224,246.2 226.3,245.3 228.8,246.4 231,244.8 233.4,243.1 235.6,244 237.9,243.7 240.1,245.1 242.4,246.2 244.5,245 246.6,243.1 249,243.1 251.2,243.1 253.4,243.3 255.7,245.3 257.8,240.3 260.2,242 262.4,243.1 264.7,245.3 267,243.1 269.2,240.9 271.6,244.2 273.8,244.8 276.1,245.1 278,249.2 280,243.1" fill="none" stroke="#333" stroke-width="0.8" stroke-linejoin="round" clip-path="url(#c23)"/>
<g fill="#1a1a1a" clip-path="url(#c23)">
<circle cx="210.4" cy="249.2" r="0.95"/>
<circle cx="212.6" cy="249.8" r="0.95"/>
<circle cx="215" cy="248.4" r="0.95"/>
<circle cx="217.4" cy="245.6" r="0.95"/>
<circle cx="219.8" cy="240.9" r="0.95"/>
<circle cx="221.8" cy="247.3" r="0.95"/>
<circle cx="224" cy="246.2" r="0.95"/>
<circle cx="226.3" cy="245.3" r="0.95"/>
<circle cx="228.8" cy="246.4" r="0.95"/>
<circle cx="231" cy="244.8" r="0.95"/>
<circle cx="233.4" cy="243.1" r="0.95"/>
<circle cx="235.6" cy="244" r="0.95"/>
<circle cx="237.9" cy="243.7" r="0.95"/>
<circle cx="240.1" cy="245.1" r="0.95"/>
<circle cx="242.4" cy="246.2" r="0.95"/>
<circle cx="244.5" cy="245" r="0.95"/>
<circle cx="246.6" cy="243.1" r="0.95"/>
<circle cx="249" cy="243.1" r="0.95"/>
<circle cx="251.2" cy="243.1" r="0.95"/>
<circle cx="253.4" cy="243.3" r="0.95"/>
<circle cx="255.7" cy="245.3" r="0.95"/>
<circle cx="257.8" cy="240.3" r="0.95"/>
<circle cx="260.2" cy="242" r="0.95"/>
<circle cx="262.4" cy="243.1" r="0.95"/>
<circle cx="264.7" cy="245.3" r="0.95"/>
<circle cx="267" cy="243.1" r="0.95"/>
<circle cx="269.2" cy="240.9" r="0.95"/>
<circle cx="271.6" cy="244.2" r="0.95"/>
<circle cx="273.8" cy="244.8" r="0.95"/>
<circle cx="276.1" cy="245.1" r="0.95"/>
<circle cx="278" cy="249.2" r="0.95"/>
<circle cx="280" cy="243.1" r="0.95"/>
</g>
<polyline points="288.8,250.6 291.6,250.4 294.1,250.6 296.3,252.3 299.1,250.8 301.3,247.6 303.8,250.1 306,250.6 308.4,251.7 310.9,252.8 312.9,249.5 315.4,249.2 317.9,251.2 320.4,252 323,254.2 325.3,248.9 327.7,249.4 330.2,248.3 332.7,249.3 335.3,250 338,247.4 339.8,244.6 342.3,246.5 344.4,246.5 346.9,248.2 349.1,239.4 351.4,241.8 353.6,243.5 355.8,242.7 358.2,245.3" fill="none" stroke="#333" stroke-width="0.8" stroke-linejoin="round" clip-path="url(#c33)"/>
<g fill="#1a1a1a" clip-path="url(#c33)">
<circle cx="288.8" cy="250.6" r="0.95"/>
<circle cx="291.6" cy="250.4" r="0.95"/>
<circle cx="294.1" cy="250.6" r="0.95"/>
<circle cx="296.3" cy="252.3" r="0.95"/>
<circle cx="299.1" cy="250.8" r="0.95"/>
<circle cx="301.3" cy="247.6" r="0.95"/>
<circle cx="303.8" cy="250.1" r="0.95"/>
<circle cx="306" cy="250.6" r="0.95"/>
<circle cx="308.4" cy="251.7" r="0.95"/>
<circle cx="310.9" cy="252.8" r="0.95"/>
<circle cx="312.9" cy="249.5" r="0.95"/>
<circle cx="315.4" cy="249.2" r="0.95"/>
<circle cx="317.9" cy="251.2" r="0.95"/>
<circle cx="320.4" cy="252" r="0.95"/>
<circle cx="323" cy="254.2" r="0.95"/>
<circle cx="325.3" cy="248.9" r="0.95"/>
<circle cx="327.7" cy="249.4" r="0.95"/>
<circle cx="330.2" cy="248.3" r="0.95"/>
<circle cx="332.7" cy="249.3" r="0.95"/>
<circle cx="335.3" cy="250" r="0.95"/>
<circle cx="338" cy="247.4" r="0.95"/>
<circle cx="339.8" cy="244.6" r="0.95"/>
<circle cx="342.3" cy="246.5" r="0.95"/>
<circle cx="344.4" cy="246.5" r="0.95"/>
<circle cx="346.9" cy="248.2" r="0.95"/>
<circle cx="349.1" cy="239.4" r="0.95"/>
<circle cx="351.4" cy="241.8" r="0.95"/>
<circle cx="353.6" cy="243.5" r="0.95"/>
<circle cx="355.8" cy="242.7" r="0.95"/>
<circle cx="358.2" cy="245.3" r="0.95"/>
</g>
<polyline points="52.4,313.3 54.7,313.6 57,314.4 59.4,313.1 61.7,313 64,313.1 66.3,313.3 68.6,313.9 70.9,314.7 73.2,312.8 75.4,312.8 77.7,313 80,312.8 82.2,313.3 84.6,314.4 86.9,312.2 89.3,312.6 91.6,312.9 93.8,313 96.1,313.3 98.4,314 100.8,311.5 103,311.8 105.3,312 107.6,312.4 110,313 112.3,314 114.6,311.7 116.8,312 119.1,312 121.3,312.2 123,312.2" fill="none" stroke="#333" stroke-width="0.8" stroke-linejoin="round" clip-path="url(#c04)"/>
<g fill="#1a1a1a" clip-path="url(#c04)">
<circle cx="52.4" cy="313.3" r="0.95"/>
<circle cx="54.7" cy="313.6" r="0.95"/>
<circle cx="57" cy="314.4" r="0.95"/>
<circle cx="59.4" cy="313.1" r="0.95"/>
<circle cx="61.7" cy="313" r="0.95"/>
<circle cx="64" cy="313.1" r="0.95"/>
<circle cx="66.3" cy="313.3" r="0.95"/>
<circle cx="68.6" cy="313.9" r="0.95"/>
<circle cx="70.9" cy="314.7" r="0.95"/>
<circle cx="73.2" cy="312.8" r="0.95"/>
<circle cx="75.4" cy="312.8" r="0.95"/>
<circle cx="77.7" cy="313" r="0.95"/>
<circle cx="80" cy="312.8" r="0.95"/>
<circle cx="82.2" cy="313.3" r="0.95"/>
<circle cx="84.6" cy="314.4" r="0.95"/>
<circle cx="86.9" cy="312.2" r="0.95"/>
<circle cx="89.3" cy="312.6" r="0.95"/>
<circle cx="91.6" cy="312.9" r="0.95"/>
<circle cx="93.8" cy="313" r="0.95"/>
<circle cx="96.1" cy="313.3" r="0.95"/>
<circle cx="98.4" cy="314" r="0.95"/>
<circle cx="100.8" cy="311.5" r="0.95"/>
<circle cx="103" cy="311.8" r="0.95"/>
<circle cx="105.3" cy="312" r="0.95"/>
<circle cx="107.6" cy="312.4" r="0.95"/>
<circle cx="110" cy="313" r="0.95"/>
<circle cx="112.3" cy="314" r="0.95"/>
<circle cx="114.6" cy="311.7" r="0.95"/>
<circle cx="116.8" cy="312" r="0.95"/>
<circle cx="119.1" cy="312" r="0.95"/>
<circle cx="121.3" cy="312.2" r="0.95"/>
<circle cx="123" cy="312.2" r="0.95"/>
</g>
<polyline points="131.9,312.4 134.2,314.4 136.5,313.1 138.8,313.3 141.1,313.3 143.4,314.4 145.7,313.9 148,314.2 150.3,313.1 152.6,313.6 154.9,313.9 157.2,315 159.5,315.3 161.8,315.3 164.1,315.8 166.4,316.6 168.7,317.4 171.1,318.4 172.5,319.1 174.4,317.6 176.4,318.3 178.6,317.2 180.9,317.6 183.3,317.8 185.6,318.3 187.9,316.7 190.3,317.6 192.5,316.1 194.8,316.1 197.1,316.1 199.3,317.2 201.7,316.4" fill="none" stroke="#333" stroke-width="0.8" stroke-linejoin="round" clip-path="url(#c14)"/>
<g fill="#1a1a1a" clip-path="url(#c14)">
<circle cx="131.9" cy="312.4" r="0.95"/>
<circle cx="134.2" cy="314.4" r="0.95"/>
<circle cx="136.5" cy="313.1" r="0.95"/>
<circle cx="138.8" cy="313.3" r="0.95"/>
<circle cx="141.1" cy="313.3" r="0.95"/>
<circle cx="143.4" cy="314.4" r="0.95"/>
<circle cx="145.7" cy="313.9" r="0.95"/>
<circle cx="148" cy="314.2" r="0.95"/>
<circle cx="150.3" cy="313.1" r="0.95"/>
<circle cx="152.6" cy="313.6" r="0.95"/>
<circle cx="154.9" cy="313.9" r="0.95"/>
<circle cx="157.2" cy="315" r="0.95"/>
<circle cx="159.5" cy="315.3" r="0.95"/>
<circle cx="161.8" cy="315.3" r="0.95"/>
<circle cx="164.1" cy="315.8" r="0.95"/>
<circle cx="166.4" cy="316.6" r="0.95"/>
<circle cx="168.7" cy="317.4" r="0.95"/>
<circle cx="171.1" cy="318.4" r="0.95"/>
<circle cx="172.5" cy="319.1" r="0.95"/>
<circle cx="174.4" cy="317.6" r="0.95"/>
<circle cx="176.4" cy="318.3" r="0.95"/>
<circle cx="178.6" cy="317.2" r="0.95"/>
<circle cx="180.9" cy="317.6" r="0.95"/>
<circle cx="183.3" cy="317.8" r="0.95"/>
<circle cx="185.6" cy="318.3" r="0.95"/>
<circle cx="187.9" cy="316.7" r="0.95"/>
<circle cx="190.3" cy="317.6" r="0.95"/>
<circle cx="192.5" cy="316.1" r="0.95"/>
<circle cx="194.8" cy="316.1" r="0.95"/>
<circle cx="197.1" cy="316.1" r="0.95"/>
<circle cx="199.3" cy="317.2" r="0.95"/>
<circle cx="201.7" cy="316.4" r="0.95"/>
</g>
<polyline points="210.4,311.8 212.6,312 215,312.3 217.4,309.2 219.6,305.9 222,304.8 224.2,305.3 226.6,305.9 228.8,307.6 231,308.7 233.4,306.7 235.6,304.2 237.9,305.9 240.1,308.4 242.4,308.7 244.4,309 246.6,306.2 248.8,303.7 251.1,304.8 253.4,306.2 255.7,307.3 257.8,305.1 260.1,303.3 262.4,304.4 264.6,307 266.9,308.9 269.2,308.4 271.4,306.4 273.8,305.6 276.1,307.3 278.3,309.6 280,305.9" fill="none" stroke="#333" stroke-width="0.8" stroke-linejoin="round" clip-path="url(#c24)"/>
<g fill="#1a1a1a" clip-path="url(#c24)">
<circle cx="210.4" cy="311.8" r="0.95"/>
<circle cx="212.6" cy="312" r="0.95"/>
<circle cx="215" cy="312.3" r="0.95"/>
<circle cx="217.4" cy="309.2" r="0.95"/>
<circle cx="219.6" cy="305.9" r="0.95"/>
<circle cx="222" cy="304.8" r="0.95"/>
<circle cx="224.2" cy="305.3" r="0.95"/>
<circle cx="226.6" cy="305.9" r="0.95"/>
<circle cx="228.8" cy="307.6" r="0.95"/>
<circle cx="231" cy="308.7" r="0.95"/>
<circle cx="233.4" cy="306.7" r="0.95"/>
<circle cx="235.6" cy="304.2" r="0.95"/>
<circle cx="237.9" cy="305.9" r="0.95"/>
<circle cx="240.1" cy="308.4" r="0.95"/>
<circle cx="242.4" cy="308.7" r="0.95"/>
<circle cx="244.4" cy="309" r="0.95"/>
<circle cx="246.6" cy="306.2" r="0.95"/>
<circle cx="248.8" cy="303.7" r="0.95"/>
<circle cx="251.1" cy="304.8" r="0.95"/>
<circle cx="253.4" cy="306.2" r="0.95"/>
<circle cx="255.7" cy="307.3" r="0.95"/>
<circle cx="257.8" cy="305.1" r="0.95"/>
<circle cx="260.1" cy="303.3" r="0.95"/>
<circle cx="262.4" cy="304.4" r="0.95"/>
<circle cx="264.6" cy="307" r="0.95"/>
<circle cx="266.9" cy="308.9" r="0.95"/>
<circle cx="269.2" cy="308.4" r="0.95"/>
<circle cx="271.4" cy="306.4" r="0.95"/>
<circle cx="273.8" cy="305.6" r="0.95"/>
<circle cx="276.1" cy="307.3" r="0.95"/>
<circle cx="278.3" cy="309.6" r="0.95"/>
<circle cx="280" cy="305.9" r="0.95"/>
</g>
<polyline points="288.6,305.3 291.3,306.2 293.6,307.3 296.1,311.2 298.6,311.2 301.1,306.1 303.1,304.1 305.5,306.9 307.9,309.4 310.3,311.2 312.6,306.8 314.9,305.7 317.6,309.6 320,309.9 322.6,310.5 324.9,305.3 327.3,303.8 329.7,305 332.1,307.3 334.6,308.1 337.1,301.6 339.6,303.1 341.6,298.3 344.1,299.3 346.4,304.9 348.8,294 351,296.2 353.2,294.6 355.4,297.3 357.9,302.6" fill="none" stroke="#333" stroke-width="0.8" stroke-linejoin="round" clip-path="url(#c34)"/>
<g fill="#1a1a1a" clip-path="url(#c34)">
<circle cx="288.6" cy="305.3" r="0.95"/>
<circle cx="291.3" cy="306.2" r="0.95"/>
<circle cx="293.6" cy="307.3" r="0.95"/>
<circle cx="296.1" cy="311.2" r="0.95"/>
<circle cx="298.6" cy="311.2" r="0.95"/>
<circle cx="301.1" cy="306.1" r="0.95"/>
<circle cx="303.1" cy="304.1" r="0.95"/>
<circle cx="305.5" cy="306.9" r="0.95"/>
<circle cx="307.9" cy="309.4" r="0.95"/>
<circle cx="310.3" cy="311.2" r="0.95"/>
<circle cx="312.6" cy="306.8" r="0.95"/>
<circle cx="314.9" cy="305.7" r="0.95"/>
<circle cx="317.6" cy="309.6" r="0.95"/>
<circle cx="320" cy="309.9" r="0.95"/>
<circle cx="322.6" cy="310.5" r="0.95"/>
<circle cx="324.9" cy="305.3" r="0.95"/>
<circle cx="327.3" cy="303.8" r="0.95"/>
<circle cx="329.7" cy="305" r="0.95"/>
<circle cx="332.1" cy="307.3" r="0.95"/>
<circle cx="334.6" cy="308.1" r="0.95"/>
<circle cx="337.1" cy="301.6" r="0.95"/>
<circle cx="339.6" cy="303.1" r="0.95"/>
<circle cx="341.6" cy="298.3" r="0.95"/>
<circle cx="344.1" cy="299.3" r="0.95"/>
<circle cx="346.4" cy="304.9" r="0.95"/>
<circle cx="348.8" cy="294" r="0.95"/>
<circle cx="351" cy="296.2" r="0.95"/>
<circle cx="353.2" cy="294.6" r="0.95"/>
<circle cx="355.4" cy="297.3" r="0.95"/>
<circle cx="357.9" cy="302.6" r="0.95"/>
</g>
<line x1="52.3" y1="18.6" x2="53.5" y2="18.6" stroke="#444" stroke-width="0.75"/>
<line x1="52.3" y1="32.1" x2="53.5" y2="32.1" stroke="#444" stroke-width="0.75"/>
<line x1="52.3" y1="45.5" x2="53.5" y2="45.5" stroke="#444" stroke-width="0.75"/>
<line x1="52.3" y1="59" x2="53.5" y2="59" stroke="#444" stroke-width="0.75"/>
<line x1="52.3" y1="72.1" x2="53.5" y2="72.1" stroke="#444" stroke-width="0.75"/>
<line x1="52.3" y1="85.6" x2="53.5" y2="85.6" stroke="#444" stroke-width="0.75"/>
<line x1="52.3" y1="99.1" x2="53.5" y2="99.1" stroke="#444" stroke-width="0.75"/>
<line x1="52.3" y1="112.6" x2="53.5" y2="112.6" stroke="#444" stroke-width="0.75"/>
<line x1="52.3" y1="153.3" x2="53.5" y2="153.3" stroke="#444" stroke-width="0.75"/>
<line x1="52.3" y1="187.8" x2="53.5" y2="187.8" stroke="#444" stroke-width="0.75"/>
<line x1="52.3" y1="235.6" x2="53.5" y2="235.6" stroke="#444" stroke-width="0.75"/>
<line x1="52.3" y1="250.2" x2="53.5" y2="250.2" stroke="#444" stroke-width="0.75"/>
<line x1="52.3" y1="264.8" x2="53.5" y2="264.8" stroke="#444" stroke-width="0.75"/>
<line x1="52.3" y1="288.5" x2="53.5" y2="288.5" stroke="#444" stroke-width="0.75"/>
<line x1="52.3" y1="303.2" x2="53.5" y2="303.2" stroke="#444" stroke-width="0.75"/>
<line x1="52.3" y1="317.9" x2="53.5" y2="317.9" stroke="#444" stroke-width="0.75"/>
<line x1="130.9" y1="18.6" x2="132.1" y2="18.6" stroke="#444" stroke-width="0.75"/>
<line x1="130.9" y1="32.1" x2="132.1" y2="32.1" stroke="#444" stroke-width="0.75"/>
<line x1="130.9" y1="45.5" x2="132.1" y2="45.5" stroke="#444" stroke-width="0.75"/>
<line x1="130.9" y1="59" x2="132.1" y2="59" stroke="#444" stroke-width="0.75"/>
<line x1="130.9" y1="72.1" x2="132.1" y2="72.1" stroke="#444" stroke-width="0.75"/>
<line x1="130.9" y1="85.6" x2="132.1" y2="85.6" stroke="#444" stroke-width="0.75"/>
<line x1="130.9" y1="99.1" x2="132.1" y2="99.1" stroke="#444" stroke-width="0.75"/>
<line x1="130.9" y1="112.6" x2="132.1" y2="112.6" stroke="#444" stroke-width="0.75"/>
<line x1="130.9" y1="153.3" x2="132.1" y2="153.3" stroke="#444" stroke-width="0.75"/>
<line x1="130.9" y1="187.8" x2="132.1" y2="187.8" stroke="#444" stroke-width="0.75"/>
<line x1="130.9" y1="235.6" x2="132.1" y2="235.6" stroke="#444" stroke-width="0.75"/>
<line x1="130.9" y1="250.2" x2="132.1" y2="250.2" stroke="#444" stroke-width="0.75"/>
<line x1="130.9" y1="264.8" x2="132.1" y2="264.8" stroke="#444" stroke-width="0.75"/>
<line x1="130.9" y1="288.5" x2="132.1" y2="288.5" stroke="#444" stroke-width="0.75"/>
<line x1="130.9" y1="303.2" x2="132.1" y2="303.2" stroke="#444" stroke-width="0.75"/>
<line x1="130.9" y1="317.9" x2="132.1" y2="317.9" stroke="#444" stroke-width="0.75"/>
<line x1="210.1" y1="18.6" x2="211.3" y2="18.6" stroke="#444" stroke-width="0.75"/>
<line x1="210.1" y1="32.1" x2="211.3" y2="32.1" stroke="#444" stroke-width="0.75"/>
<line x1="210.1" y1="45.5" x2="211.3" y2="45.5" stroke="#444" stroke-width="0.75"/>
<line x1="210.1" y1="59" x2="211.3" y2="59" stroke="#444" stroke-width="0.75"/>
<line x1="210.1" y1="72.1" x2="211.3" y2="72.1" stroke="#444" stroke-width="0.75"/>
<line x1="210.1" y1="85.6" x2="211.3" y2="85.6" stroke="#444" stroke-width="0.75"/>
<line x1="210.1" y1="99.1" x2="211.3" y2="99.1" stroke="#444" stroke-width="0.75"/>
<line x1="210.1" y1="112.6" x2="211.3" y2="112.6" stroke="#444" stroke-width="0.75"/>
<line x1="210.1" y1="153.3" x2="211.3" y2="153.3" stroke="#444" stroke-width="0.75"/>
<line x1="210.1" y1="187.8" x2="211.3" y2="187.8" stroke="#444" stroke-width="0.75"/>
<line x1="210.1" y1="235.6" x2="211.3" y2="235.6" stroke="#444" stroke-width="0.75"/>
<line x1="210.1" y1="250.2" x2="211.3" y2="250.2" stroke="#444" stroke-width="0.75"/>
<line x1="210.1" y1="264.8" x2="211.3" y2="264.8" stroke="#444" stroke-width="0.75"/>
<line x1="210.1" y1="288.5" x2="211.3" y2="288.5" stroke="#444" stroke-width="0.75"/>
<line x1="210.1" y1="303.2" x2="211.3" y2="303.2" stroke="#444" stroke-width="0.75"/>
<line x1="210.1" y1="317.9" x2="211.3" y2="317.9" stroke="#444" stroke-width="0.75"/>
<line x1="288.5" y1="18.6" x2="289.7" y2="18.6" stroke="#444" stroke-width="0.75"/>
<line x1="288.5" y1="32.1" x2="289.7" y2="32.1" stroke="#444" stroke-width="0.75"/>
<line x1="288.5" y1="45.5" x2="289.7" y2="45.5" stroke="#444" stroke-width="0.75"/>
<line x1="288.5" y1="59" x2="289.7" y2="59" stroke="#444" stroke-width="0.75"/>
<line x1="288.5" y1="72.1" x2="289.7" y2="72.1" stroke="#444" stroke-width="0.75"/>
<line x1="288.5" y1="85.6" x2="289.7" y2="85.6" stroke="#444" stroke-width="0.75"/>
<line x1="288.5" y1="99.1" x2="289.7" y2="99.1" stroke="#444" stroke-width="0.75"/>
<line x1="288.5" y1="112.6" x2="289.7" y2="112.6" stroke="#444" stroke-width="0.75"/>
<line x1="288.5" y1="153.3" x2="289.7" y2="153.3" stroke="#444" stroke-width="0.75"/>
<line x1="288.5" y1="187.8" x2="289.7" y2="187.8" stroke="#444" stroke-width="0.75"/>
<line x1="288.5" y1="235.6" x2="289.7" y2="235.6" stroke="#444" stroke-width="0.75"/>
<line x1="288.5" y1="250.2" x2="289.7" y2="250.2" stroke="#444" stroke-width="0.75"/>
<line x1="288.5" y1="264.8" x2="289.7" y2="264.8" stroke="#444" stroke-width="0.75"/>
<line x1="288.5" y1="288.5" x2="289.7" y2="288.5" stroke="#444" stroke-width="0.75"/>
<line x1="288.5" y1="303.2" x2="289.7" y2="303.2" stroke="#444" stroke-width="0.75"/>
<line x1="288.5" y1="317.9" x2="289.7" y2="317.9" stroke="#444" stroke-width="0.75"/>
<rect x="52.3" y="19" width="70.7" height="40.5" fill="none" stroke="#444" stroke-width="1.2"/>
<rect x="52.3" y="72" width="70.7" height="40.6" fill="none" stroke="#444" stroke-width="1.2"/>
<rect x="52.3" y="125" width="70.7" height="98.7" fill="none" stroke="#444" stroke-width="1.2"/>
<rect x="52.3" y="235.3" width="70.7" height="40.7" fill="none" stroke="#444" stroke-width="1.2"/>
<rect x="52.3" y="288.3" width="70.7" height="40.7" fill="none" stroke="#444" stroke-width="1.2"/>
<rect x="130.9" y="19" width="71.3" height="40.5" fill="none" stroke="#444" stroke-width="1.2"/>
<rect x="130.9" y="72" width="71.3" height="40.6" fill="none" stroke="#444" stroke-width="1.2"/>
<rect x="130.9" y="125" width="71.3" height="98.7" fill="none" stroke="#444" stroke-width="1.2"/>
<rect x="130.9" y="235.3" width="71.3" height="40.7" fill="none" stroke="#444" stroke-width="1.2"/>
<rect x="130.9" y="288.3" width="71.3" height="40.7" fill="none" stroke="#444" stroke-width="1.2"/>
<rect x="210.1" y="19" width="70.1" height="40.5" fill="none" stroke="#444" stroke-width="1.2"/>
<rect x="210.1" y="72" width="70.1" height="40.6" fill="none" stroke="#444" stroke-width="1.2"/>
<rect x="210.1" y="125" width="70.1" height="98.7" fill="none" stroke="#444" stroke-width="1.2"/>
<rect x="210.1" y="235.3" width="70.1" height="40.7" fill="none" stroke="#444" stroke-width="1.2"/>
<rect x="210.1" y="288.3" width="70.1" height="40.7" fill="none" stroke="#444" stroke-width="1.2"/>
<rect x="288.5" y="19" width="70.5" height="40.5" fill="none" stroke="#444" stroke-width="1.2"/>
<rect x="288.5" y="72" width="70.5" height="40.6" fill="none" stroke="#444" stroke-width="1.2"/>
<rect x="288.5" y="125" width="70.5" height="98.7" fill="none" stroke="#444" stroke-width="1.2"/>
<rect x="288.5" y="235.3" width="70.5" height="40.7" fill="none" stroke="#444" stroke-width="1.2"/>
<rect x="288.5" y="288.3" width="70.5" height="40.7" fill="none" stroke="#444" stroke-width="1.2"/>
<g filter="url(#soft)"><g style="filter:grayscale(1)">
<text transform="translate(50.3,22.7) scale(1,1.17)" font-size="11.2" text-anchor="end">30</text>
<text transform="translate(50.3,36.3) scale(1,1.17)" font-size="11.2" text-anchor="end">20</text>
<text transform="translate(50.3,49.6) scale(1,1.17)" font-size="11.2" text-anchor="end">10</text>
<text transform="translate(50.3,62.7) scale(1,1.17)" font-size="11.2" text-anchor="end">0</text>
<text transform="translate(50.3,75.9) scale(1,1.17)" font-size="11.2" text-anchor="end">15</text>
<text transform="translate(50.3,89) scale(1,1.17)" font-size="11.2" text-anchor="end">10</text>
<text transform="translate(50.3,102.8) scale(1,1.17)" font-size="11.2" text-anchor="end">5</text>
<text transform="translate(50.3,115.7) scale(1,1.17)" font-size="11.2" text-anchor="end">0</text>
<text transform="translate(49,157.2) scale(1,1.17)" font-size="11.2" text-anchor="end">0.7</text>
<text transform="translate(49,192.3) scale(1,1.17)" font-size="11.2" text-anchor="end">0.65</text>
<text transform="translate(49,226.9) scale(1,1.17)" font-size="11.2" text-anchor="end">0.6</text>
<text transform="translate(50.4,239.7) scale(1,1.17)" font-size="11.2" text-anchor="end">150</text>
<text transform="translate(50.4,254.3) scale(1,1.17)" font-size="11.2" text-anchor="end">140</text>
<text transform="translate(50.4,268.9) scale(1,1.17)" font-size="11.2" text-anchor="end">130</text>
<text transform="translate(50.4,292.2) scale(1,1.17)" font-size="11.2" text-anchor="end">90</text>
<text transform="translate(50.4,307) scale(1,1.17)" font-size="11.2" text-anchor="end">80</text>
<text transform="translate(50.4,321.7) scale(1,1.17)" font-size="11.2" text-anchor="end">70</text>
<text transform="translate(53.3,339.7) scale(1,1.17)" font-size="11.2" text-anchor="middle">0</text>
<text transform="translate(119.3,339.7) scale(1,1.17)" font-size="11.2" text-anchor="middle">20</text>
<text transform="translate(131.5,339.7) scale(1,1.17)" font-size="11.2" text-anchor="middle">0</text>
<text transform="translate(199.6,339.7) scale(1,1.17)" font-size="11.2" text-anchor="middle">20</text>
<text transform="translate(211.8,339.7) scale(1,1.17)" font-size="11.2" text-anchor="middle">0</text>
<text transform="translate(275.5,339.7) scale(1,1.17)" font-size="11.2" text-anchor="middle">20</text>
<text transform="translate(291.1,339.7) scale(1,1.17)" font-size="11.2" text-anchor="middle">0</text>
<text transform="translate(355.6,339.7) scale(1,1.17)" font-size="11.2" text-anchor="middle">20</text>
<text x="88.8" y="346.6" font-size="14.1" text-anchor="middle">time (s)</text>
<text x="165.6" y="346.6" font-size="14.1" text-anchor="middle">time (s)</text>
<text x="244.8" y="346.6" font-size="14.1" text-anchor="middle">time (s)</text>
<text x="322.4" y="346.6" font-size="14.1" text-anchor="middle">time (s)</text>
<text x="90.8" y="11.9" font-size="14.0" font-weight="bold" text-anchor="middle">PCV</text>
<text x="171" y="11.9" font-size="14.0" font-weight="bold" text-anchor="middle">PCV<tspan font-size="7.3" dx="0.6" dy="3.9" font-weight="bold">noisy</tspan></text>
<text x="247" y="11.9" font-size="14.0" font-weight="bold" text-anchor="middle">PSV</text>
<text x="326.6" y="11.9" font-size="14.0" font-weight="bold" text-anchor="middle">PSV<tspan font-size="7.3" dx="1.1" dy="3.9" font-weight="bold">noisy</tspan></text>
<text transform="translate(11.8,38.8) rotate(-90)" x="0" y="0" font-size="14.0" text-anchor="middle">P<tspan font-size="6.8" dy="3.0">AW</tspan></text>
<text transform="translate(28.8,38.8) rotate(-90)" x="0" y="0" font-size="14.0" text-anchor="middle">(cmH<tspan font-size="6.2" dy="3.2">2</tspan><tspan dy="-3.2">O)</tspan></text>
<text transform="translate(11.9,93) rotate(-90)" x="0" y="0" font-size="14.0" text-anchor="middle">P<tspan font-size="6.8" dy="3.0">E</tspan></text>
<text transform="translate(28.8,93) rotate(-90)" x="0" y="0" font-size="14.0" text-anchor="middle">(cmH<tspan font-size="6.2" dy="3.2">2</tspan><tspan dy="-3.2">O)</tspan></text>
<text transform="translate(12.1,172.9) rotate(-90)" x="0" y="0" font-size="14.0" text-anchor="middle">R-R</text>
<text transform="translate(27.6,172.2) rotate(-90)" x="0" y="0" font-size="14.0" text-anchor="middle">(ms)</text>
<text transform="translate(12.2,255.9) rotate(-90)" x="0" y="0" font-size="14.0" text-anchor="middle">SAP</text>
<text transform="translate(27.8,256.5) rotate(-90)" x="0" y="0" font-size="14.0" text-anchor="middle">(mmHg)</text>
<text transform="translate(12.3,310.3) rotate(-90)" x="0" y="0" font-size="14.0" text-anchor="middle">DAP</text>
<text transform="translate(27.8,310.9) rotate(-90)" x="0" y="0" font-size="14.0" text-anchor="middle">(mmHg)</text>
</g></g></svg></body></html>
